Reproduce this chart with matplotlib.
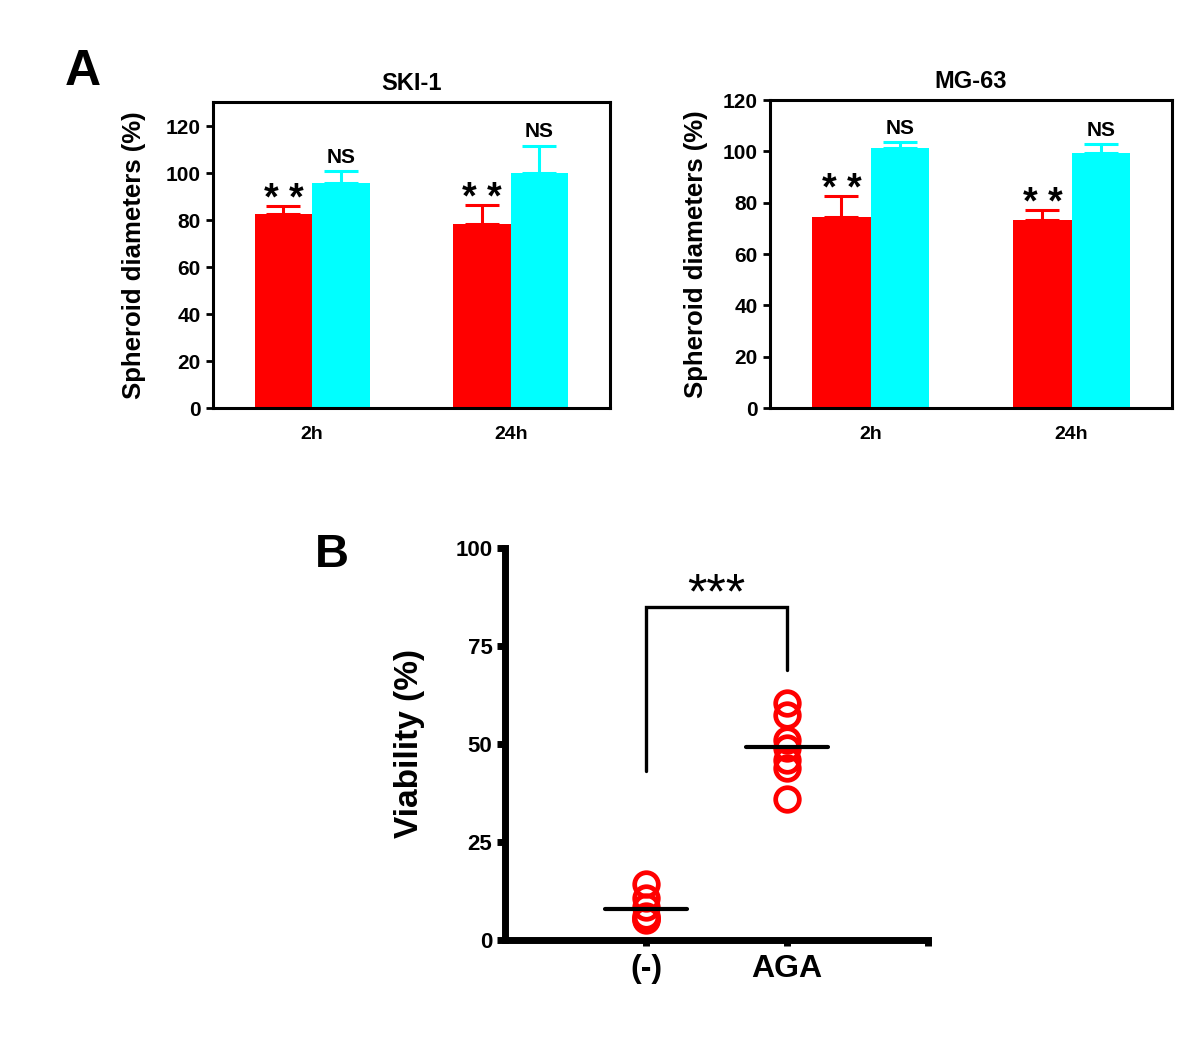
import matplotlib
matplotlib.use("Agg")
import matplotlib.pyplot as plt
import numpy as np

plt.rcParams['font.family'] = ['Liberation Sans', 'DejaVu Sans']
plt.rcParams['font.weight'] = 'bold'

# panel A data
timepoints = ["2h", "24h"]
ski_red = [82.5, 78.3]
ski_red_err = [3.7, 8.4]
ski_cyan = [95.9, 100.1]
ski_cyan_err = [5.1, 11.7]
mg_red = [74.4, 73.2]
mg_red_err = [8.3, 3.9]
mg_cyan = [101.2, 99.2]
mg_cyan_err = [2.5, 3.6]
red_marks = ["* *", "* *"]
cyan_marks = ["NS", "NS"]

# panel B data
groups = ["(-)", "AGA"]
ctrl_vals = [14.2, 10.8, 8.5, 6.0, 5.5, 5.3, 5.2]
aga_vals = [60.5, 57.5, 51.0, 49.0, 46.0, 44.0, 36.0]

RED = "#ff0000"
CYAN = "#00ffff"

fig = plt.figure(figsize=(12, 10.42), dpi=100)


def bar_panel(rect, title, red, red_err, cyan, cyan_err, ymax, yticks, lab_x):
    ax = fig.add_axes(rect)
    x = np.arange(len(timepoints))
    w = 0.29
    ax.bar(x - w / 2, red, w, color=RED, zorder=2)
    ax.bar(x + w / 2, cyan, w, color=CYAN, zorder=2)
    ax.errorbar(x - w / 2, red, yerr=[np.zeros(2), red_err], fmt='none',
                ecolor=RED, elinewidth=2.2, capsize=12, capthick=2.2, zorder=1)
    ax.errorbar(x + w / 2, cyan, yerr=[np.zeros(2), cyan_err], fmt='none',
                ecolor=CYAN, elinewidth=2.2, capsize=12, capthick=2.2, zorder=1)
    for i in range(len(x)):
        ax.annotate(red_marks[i], (x[i] - w / 2, red[i] + red_err[i]),
                    xytext=(0, -3), textcoords='offset points', ha='center',
                    va='baseline', fontsize=27, fontweight='bold')
        ax.annotate(cyan_marks[i], (x[i] + w / 2, cyan[i] + cyan_err[i]),
                    xytext=(0, 3), textcoords='offset points', ha='center',
                    va='bottom', fontsize=15)
    ax.set_xlim(-0.5, 1.5)
    ax.set_ylim(0, ymax)
    ax.set_yticks(yticks)
    ax.set_xticks(x)
    ax.set_xticklabels(timepoints)
    for s in ax.spines.values():
        s.set_linewidth(2.2)
    ax.tick_params(axis='y', length=5, width=2, labelsize=15, pad=4)
    ax.tick_params(axis='x', length=0, labelsize=14, pad=13)
    ax.set_title(title, fontsize=17, fontweight='bold', pad=9)
    ax.set_ylabel("Spheroid diameters (%)", fontsize=18.5, fontweight='bold')
    ax.yaxis.set_label_coords(lab_x, 0.5)
    return ax


bar_panel([0.1775, 0.6084, 0.3308, 0.2937], "SKI-1", ski_red, ski_red_err,
          ski_cyan, ski_cyan_err, 130.4, range(0, 121, 20), -0.169)
bar_panel([0.6417, 0.6084, 0.335, 0.2956], "MG-63", mg_red, mg_red_err,
          mg_cyan, mg_cyan_err, 120, range(0, 121, 20), -0.154)

# panel B
axb = fig.add_axes([0.4208, 0.0979, 0.3525, 0.3762])
for i, vals in enumerate([ctrl_vals, aga_vals]):
    axb.plot([i] * len(vals), vals, 'o', ms=17, mfc='none', mec=RED,
             mew=3.4, clip_on=False, zorder=2)
    m = np.mean(vals)
    axb.plot([i - 0.29, i + 0.29], [m, m], color='black', lw=3, zorder=3,
             solid_capstyle='round')
# significance bracket
axb.plot([0, 0, 1, 1], [43, 85, 85, 69], color='black', lw=2.4,
         solid_capstyle='round', solid_joinstyle='miter')
axb.text(0.5, 84.5, "***", ha='center', va='baseline', fontsize=36,
         fontweight='normal')
axb.set_xlim(-1, 2)
axb.set_ylim(0, 100)
axb.set_xticks([0, 1, 2])
axb.set_xticklabels(groups + [""])
axb.set_yticks([0, 25, 50, 75, 100])
axb.spines['top'].set_visible(False)
axb.spines['right'].set_visible(False)
axb.spines['left'].set_linewidth(5)
axb.spines['bottom'].set_linewidth(5)
axb.tick_params(axis='y', length=6, width=5, labelsize=16, pad=3)
axb.tick_params(axis='x', length=4, width=5, labelsize=23, pad=6)
axb.set_ylabel("Viability (%)", fontsize=24, fontweight='bold')
axb.yaxis.set_label_coords(-0.19, 0.5)

fig.text(0.054, 0.918, "A", fontsize=36, fontweight='bold', va='baseline')
fig.text(0.2625, 0.456, "B", fontsize=34, fontweight='bold', va='baseline')

fig.savefig("out.png", dpi=100)
